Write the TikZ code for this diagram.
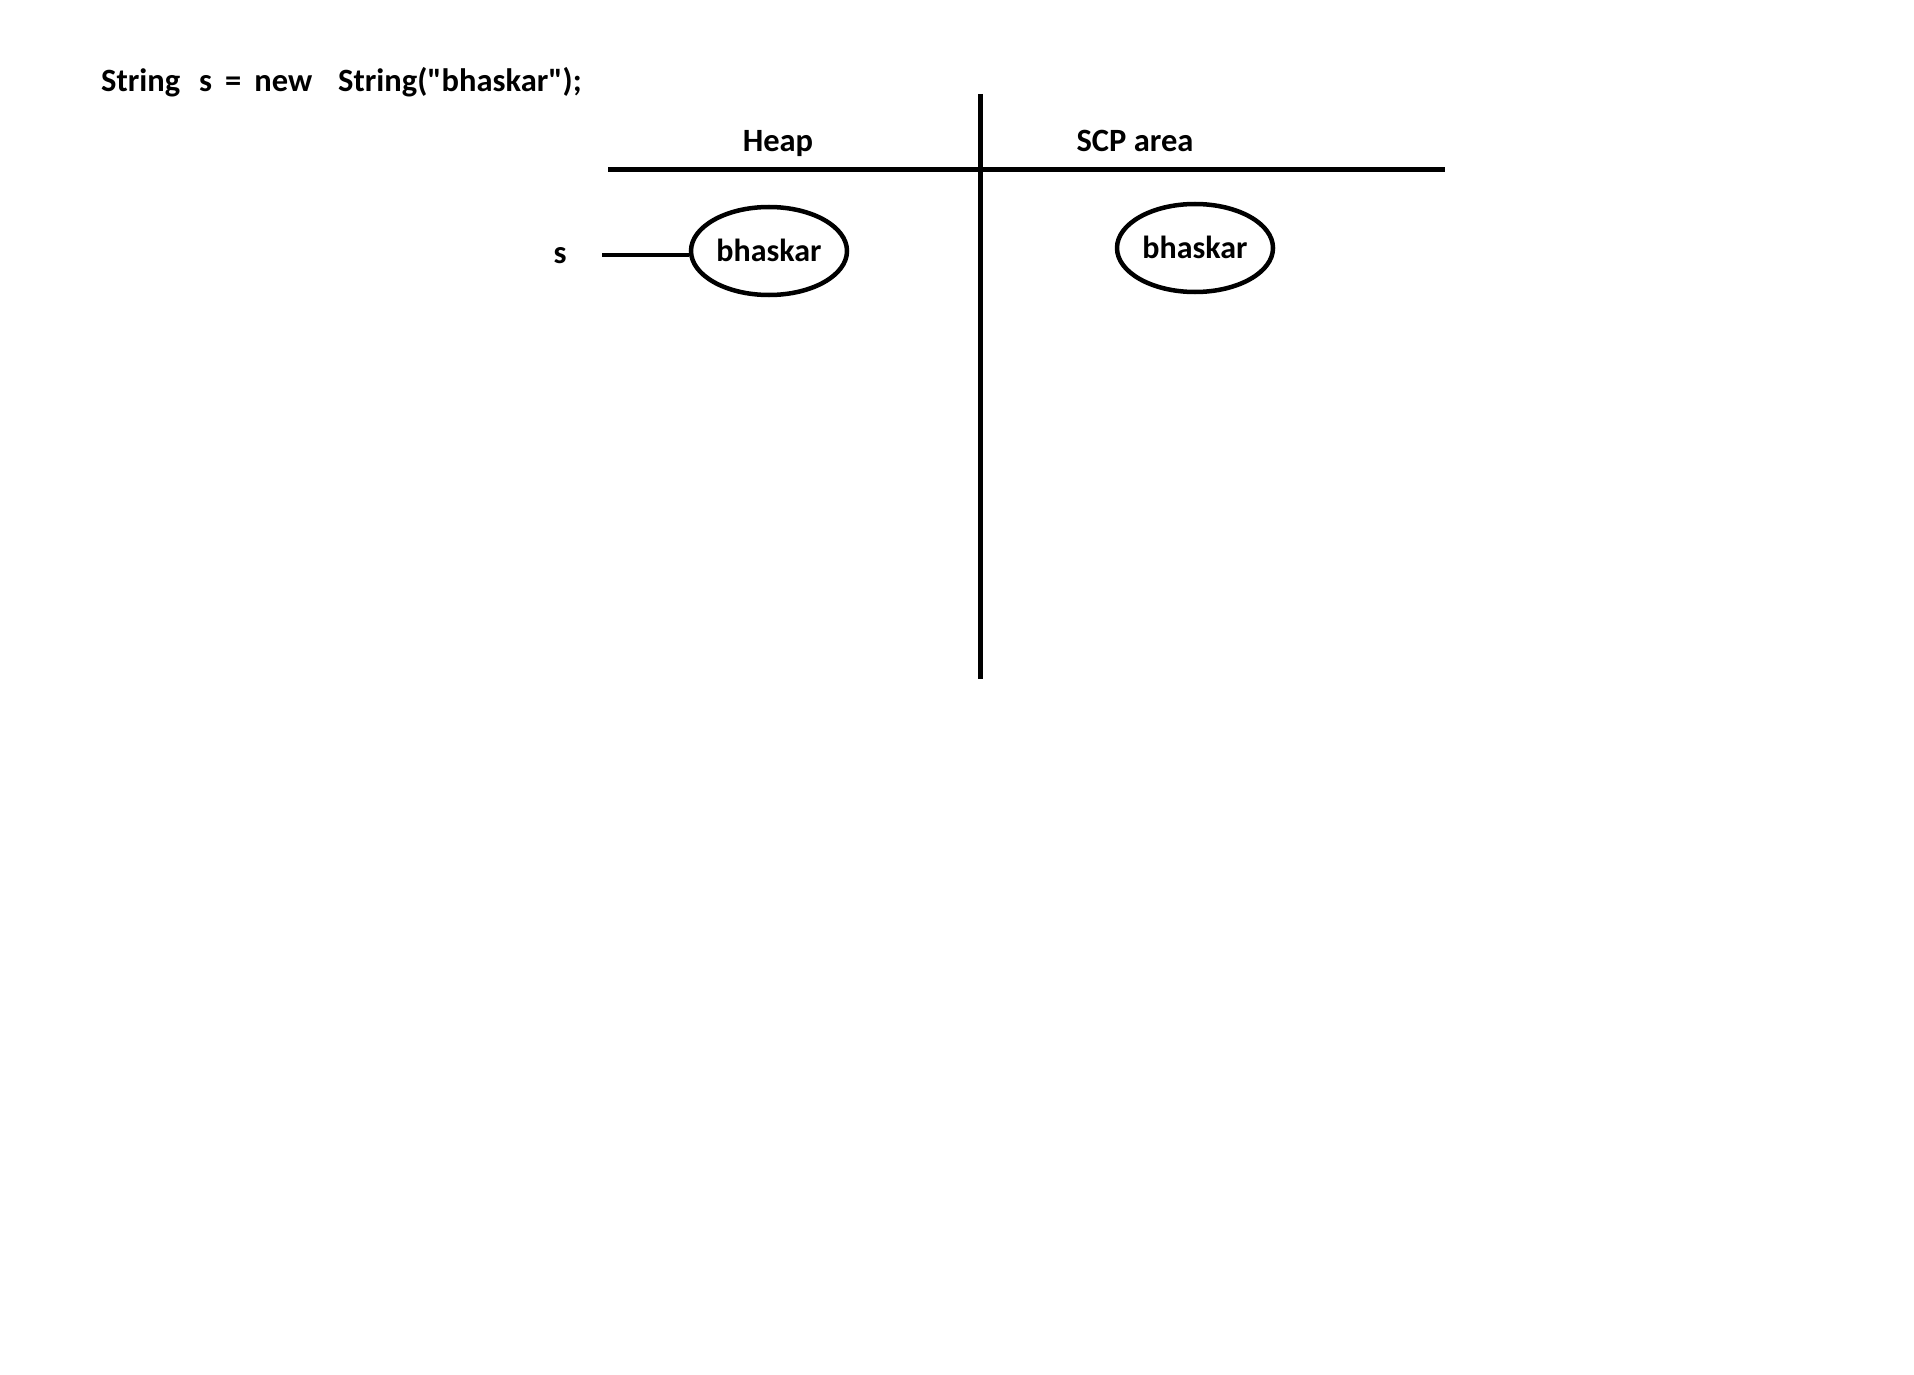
\documentclass[tikz,border=0pt]{standalone}
\usepackage{fontspec}
\setmainfont{Carlito}
\usetikzlibrary{positioning,shapes.geometric}

\begin{document}
\begin{tikzpicture}[x=1pt, y=-1pt,
  txt/.style = {font=\fontsize{32.5}{38}\selectfont\bfseries, inner sep=0pt},
  obj/.style = {ellipse, draw, line width=4.5pt, minimum width=156pt, minimum height=88pt, inner sep=0pt, font=\fontsize{32}{38}\selectfont\bfseries},
  bar/.style = {line width=5pt}]
\useasboundingbox (0,0) rectangle (1914,1375);
%\draw (0,0) grid (1914,1375);
\node[txt, anchor=west] (code) at (101,82) {String\hspace{19pt}s\hspace{13pt}=\hspace{13pt}new\hspace{26pt}String(\textquotedbl bhaskar\textquotedbl);};
\draw[bar] (980,94) -- (980,679);
\draw[bar] (608,170) -- (1445,170);
\node[txt, anchor=base] (heap) at (778,152) {Heap};
\node[txt, anchor=base] (scp) at (1135,152) {SCP area};
\node[obj] (heapobj) at (769,251) {\raisebox{2pt}{bhaskar}};
\node[obj] (scpobj) at (1195,248) {\raisebox{2pt}{bhaskar}};
\node[txt] (s) at (560,256) {s};
\coordinate (sptr) at (602,255);
\draw[line width=4.5pt] (sptr) -- (sptr -| heapobj.west);
\end{tikzpicture}
\end{document}
